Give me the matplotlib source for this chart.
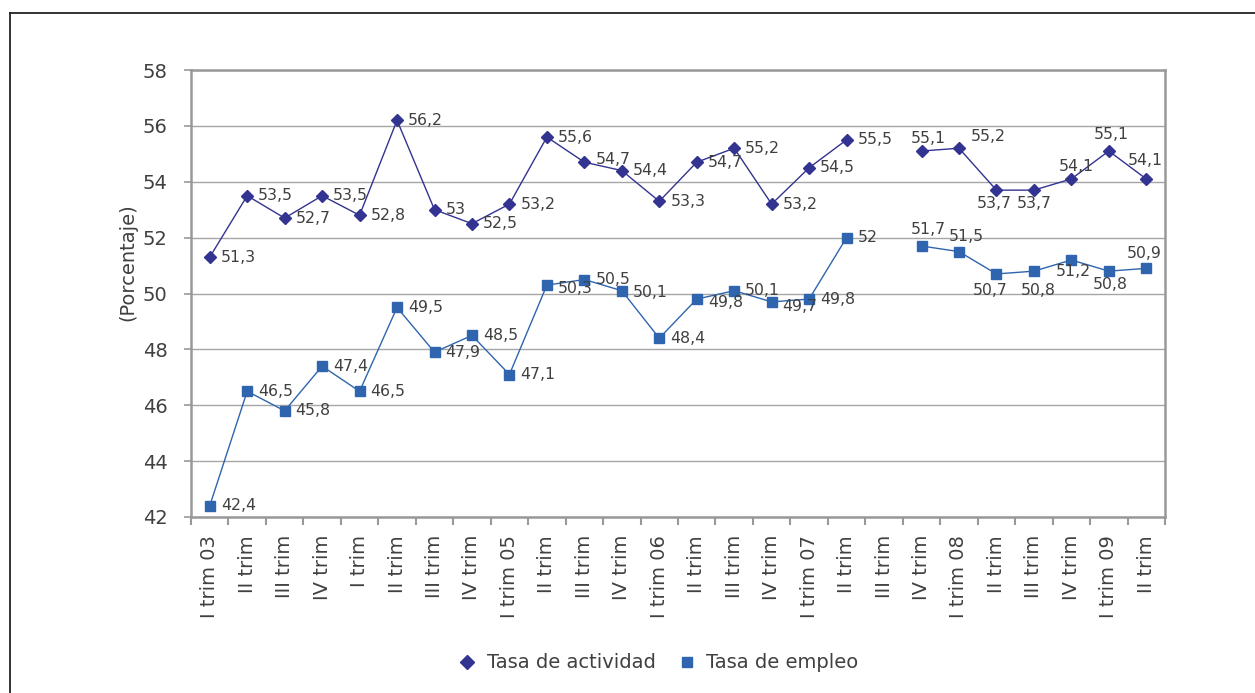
import numpy as np
import matplotlib
matplotlib.use('Agg')
import matplotlib.pyplot as plt
from matplotlib.lines import Line2D
from matplotlib.transforms import blended_transform_factory

plt.rcParams['font.family'] = ['DejaVu Sans']

categorias = ['I trim 03', 'II trim', 'III trim', 'IV trim',
              'I trim', 'II trim', 'III trim', 'IV trim',
              'I trim 05', 'II trim', 'III trim', 'IV trim',
              'I trim 06', 'II trim', 'III trim', 'IV trim',
              'I trim 07', 'II trim', 'III trim', 'IV trim',
              'I trim 08', 'II trim', 'III trim', 'IV trim',
              'I trim 09', 'II trim']

tasa_actividad = [51.3, 53.5, 52.7, 53.5, 52.8, 56.2, 53.0, 52.5, 53.2, 55.6,
                  54.7, 54.4, 53.3, 54.7, 55.2, 53.2, 54.5, 55.5, np.nan,
                  55.1, 55.2, 53.7, 53.7, 54.1, 55.1, 54.1]
tasa_empleo = [42.4, 46.5, 45.8, 47.4, 46.5, 49.5, 47.9, 48.5, 47.1, 50.3,
               50.5, 50.1, 48.4, 49.8, 50.1, 49.7, 49.8, 52.0, np.nan,
               51.7, 51.5, 50.7, 50.8, 51.2, 50.8, 50.9]

# label offsets (pixels) - only where they differ from "right of the marker"
off_act = {10: (11, 3), 19: (7, 13), 20: (12, 12), 21: (-2, -13), 22: (0, -13),
           23: (5, 12), 24: (3, 17), 25: (-1, 18)}
off_emp = {9: (11, -3), 11: (11, -2), 13: (11, -3), 15: (11, -5),
           19: (7, 17), 20: (7, 15), 21: (-6, -17), 22: (4, -19),
           23: (2, -12), 24: (1, -13), 25: (-2, 15)}

c_act = '#333391'
c_emp = '#2F65AE'
c_txt = '#404040'
c_grid = '#A6A6A6'

fig = plt.figure(figsize=(12.55, 6.93), dpi=100)
ax = fig.add_axes([191 / 1255, 1 - 517 / 693, (1165 - 191) / 1255, (517 - 70) / 693])

x = np.arange(len(categorias))
ax.plot(x, tasa_actividad, color=c_act, lw=1.0, marker='D', ms=6.5, zorder=3)
ax.plot(x, tasa_empleo, color=c_emp, lw=1.0, marker='s', ms=6.5, zorder=3)


def etiquetas(vals, offs):
    for i, v in enumerate(vals):
        if np.isnan(v):
            continue
        dx, dy = offs.get(i, (11, 0))
        ha = 'left' if dx >= 10 else 'center'
        ax.annotate(f'{v:g}'.replace('.', ','), xy=(i, v),
                    xytext=(dx * 0.72, dy * 0.72), textcoords='offset points',
                    ha=ha, va='center', fontsize=11.3, color=c_txt, zorder=4)


etiquetas(tasa_actividad, off_act)
etiquetas(tasa_empleo, off_emp)

ax.set_xlim(-0.5, len(categorias) - 0.5)
ax.set_ylim(42, 58)
ax.set_yticks(np.arange(42, 59, 2))
ax.yaxis.grid(True, color=c_grid, lw=1)
ax.set_axisbelow(True)
ax.tick_params(axis='y', length=5, width=1.2, color='#999999', labelsize=14,
               labelcolor=c_txt, pad=12)

ax.set_xticks(x)
ax.set_xticklabels([])
ax.set_xticks(np.arange(-0.5, len(categorias), 1), minor=True)
ax.tick_params(axis='x', which='major', length=0)
ax.tick_params(axis='x', which='minor', length=6, width=1.5, color='#999999')

trans = blended_transform_factory(ax.transData, ax.transAxes)
for i, lab in enumerate(categorias):
    ax.text(i, -0.04, lab, rotation=90, ha='center', va='top', fontsize=14,
            color=c_txt, transform=trans)

for s in ax.spines.values():
    s.set_color('#999999')
    s.set_linewidth(1.8)

fig.text(128 / 1255, 1 - 262 / 693, '(Porcentaje)', rotation=90, ha='center',
         va='center', fontsize=14, color=c_txt)

handles = [Line2D([], [], color=c_act, marker='D', ls='none', ms=7),
           Line2D([], [], color=c_emp, marker='s', ls='none', ms=7)]
fig.legend(handles, ['Tasa de actividad', 'Tasa de empleo'], loc='center',
           bbox_to_anchor=(657 / 1255, 1 - 663 / 693), ncol=2, frameon=False,
           fontsize=14, labelcolor=c_txt, handletextpad=0.4, columnspacing=1.0,
           handlelength=1.2)

# outer frame: left and top edges only
fig.add_artist(Line2D([10 / 1255, 10 / 1255], [0, 1 - 13 / 693], color='#222222',
                      lw=1.3, transform=fig.transFigure))
fig.add_artist(Line2D([10 / 1255, 1], [1 - 13 / 693, 1 - 13 / 693], color='#222222',
                      lw=1.3, transform=fig.transFigure))

fig.savefig('out.png', dpi=100, facecolor='white')
